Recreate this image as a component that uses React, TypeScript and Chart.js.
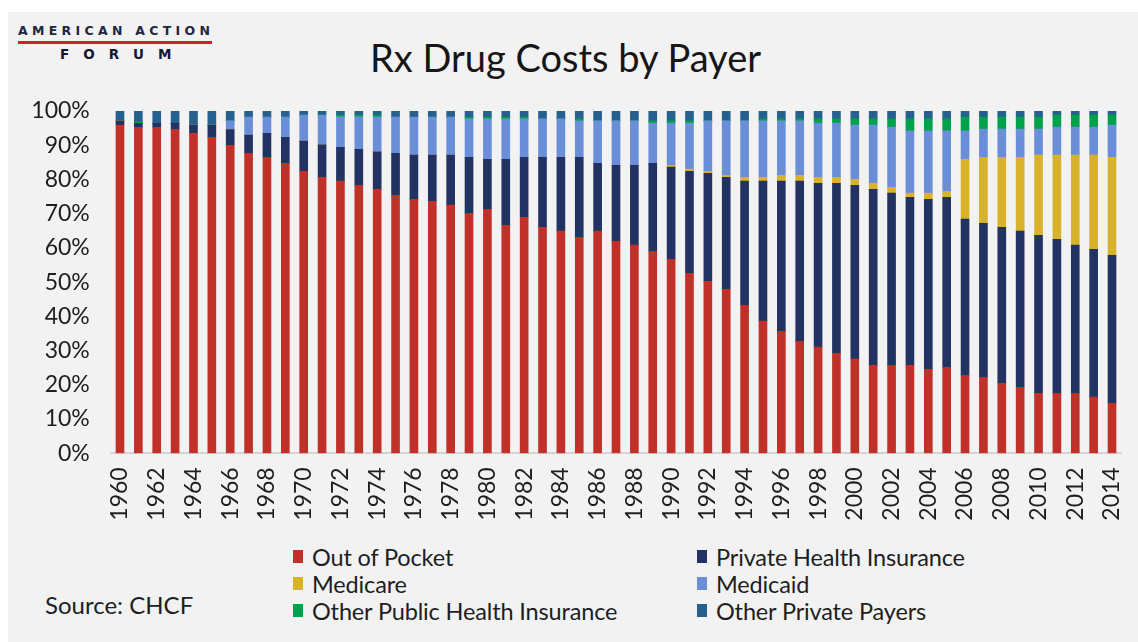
import React, { useEffect, useRef } from "react";
import { Chart, registerables } from "chart.js";

Chart.register(...registerables);

const years: string[] = [
  "1960","1961","1962","1963","1964","1965","1966","1967","1968","1969",
  "1970","1971","1972","1973","1974","1975","1976","1977","1978","1979",
  "1980","1981","1982","1983","1984","1985","1986","1987","1988","1989",
  "1990","1991","1992","1993","1994","1995","1996","1997","1998","1999",
  "2000","2001","2002","2003","2004","2005","2006","2007","2008","2009",
  "2010","2011","2012","2013","2014",
];

const outOfPocket: number[] = [
  95.9, 95.2, 95.2, 94.6, 93.5, 92.3, 90.0, 87.6, 86.5, 84.7,
  82.4, 80.6, 79.5, 78.3, 77.1, 75.4, 74.2, 73.6, 72.5, 70.1,
  71.3, 66.6, 68.9, 66.0, 64.9, 63.1, 64.9, 61.9, 60.8, 59.0,
  56.7, 52.6, 50.2, 47.9, 43.2, 38.6, 35.6, 32.7, 31.0, 29.2,
  27.5, 25.7, 25.7, 25.7, 24.5, 25.1, 22.8, 22.2, 20.4, 19.3,
  17.5, 17.5, 17.5, 16.4, 14.6,
];

const privateHealthInsurance: number[] = [
  1.2, 1.2, 1.2, 1.8, 2.4, 3.6, 4.6, 5.4, 7.0, 7.6,
  8.8, 9.5, 9.9, 10.5, 11.0, 12.2, 12.9, 13.5, 14.6, 16.4,
  14.6, 19.3, 17.6, 20.5, 21.6, 23.4, 19.8, 22.2, 23.3, 25.7,
  26.9, 29.8, 31.6, 32.7, 36.3, 40.9, 43.9, 46.8, 47.9, 49.7,
  50.8, 51.4, 50.3, 49.1, 49.7, 49.7, 45.6, 45.0, 45.6, 45.6,
  46.2, 45.0, 43.3, 43.2, 43.2,
];

const medicare: number[] = [
  0, 0, 0, 0, 0, 0, 0, 0, 0, 0,
  0, 0, 0, 0, 0, 0, 0, 0, 0, 0,
  0, 0, 0, 0, 0, 0, 0, 0, 0, 0,
  0.5, 0.6, 0.6, 0.6, 1.1, 1.1, 1.7, 1.7, 1.7, 1.7,
  1.7, 1.8, 1.7, 1.2, 1.8, 1.7, 17.5, 19.3, 20.5, 21.6,
  23.4, 24.6, 26.3, 27.5, 28.7,
];

const medicaid: number[] = [
  0, 0, 0, 0, 0, 0, 2.5, 5.2, 4.7, 5.9,
  7.6, 8.7, 8.9, 9.5, 10.1, 10.6, 11.1, 11.1, 11.1, 11.2,
  11.8, 11.8, 11.2, 11.2, 11.2, 10.6, 12.4, 13.0, 13.0, 11.8,
  12.4, 13.5, 14.7, 15.9, 16.5, 16.5, 15.9, 15.9, 15.9, 15.9,
  15.9, 17.0, 17.6, 18.2, 18.2, 17.7, 8.3, 8.2, 8.2, 8.2,
  7.6, 8.2, 8.2, 8.2, 9.4,
];

const otherPublic: number[] = [
  0, 0.4, 0, 0, 0, 0, 0, 0, 0, 0,
  0, 0, 0.5, 0.5, 0.6, 0, 0, 0, 0, 0.5,
  0.5, 0.5, 0.5, 0, 0, 0.6, 0, 0, 0, 0.6,
  0.6, 0.6, 0, 0, 0, 0.6, 0.6, 0.6, 1.2, 1.2,
  1.8, 1.8, 2.4, 3.5, 3.5, 3.5, 4.0, 3.5, 3.5, 3.5,
  3.5, 3.5, 3.5, 3.5, 2.9,
];

const otherPrivate: number[] = [
  2.9, 3.2, 3.6, 3.6, 4.1, 4.1, 2.9, 1.8, 1.8, 1.8,
  1.2, 1.2, 1.2, 1.2, 1.2, 1.8, 1.8, 1.8, 1.8, 1.8,
  1.8, 1.8, 1.8, 2.3, 2.3, 2.3, 2.9, 2.9, 2.9, 2.9,
  2.9, 2.9, 2.9, 2.9, 2.9, 2.3, 2.3, 2.3, 2.3, 2.3,
  2.3, 2.3, 2.3, 2.3, 2.3, 2.3, 1.8, 1.8, 1.8, 1.8,
  1.8, 1.2, 1.2, 1.2, 1.2,
];

const seriesNames: string[] = [
  "Out of Pocket",
  "Private Health Insurance",
  "Medicare",
  "Medicaid",
  "Other Public Health Insurance",
  "Other Private Payers",
];

const seriesColors: string[] = [
  "#c0312a",
  "#223363",
  "#d8b22a",
  "#6a8fd8",
  "#00a14b",
  "#26608f",
];

const seriesValues: number[][] = [
  outOfPocket,
  privateHealthInsurance,
  medicare,
  medicaid,
  otherPublic,
  otherPrivate,
];

const legendOrder: number[] = [0, 1, 2, 3, 4, 5];

const yTicks: number[] = [0, 10, 20, 30, 40, 50, 60, 70, 80, 90, 100];

const FONT = "Lato, 'Open Sans', sans-serif";

export default function App() {
  const canvasRef = useRef<HTMLCanvasElement | null>(null);

  useEffect(() => {
    const canvas = canvasRef.current;
    if (!canvas) return;
    const chart = new Chart(canvas, {
      type: "bar",
      data: {
        labels: years,
        datasets: seriesNames.map((name, i) => ({
          label: name,
          data: seriesValues[i],
          backgroundColor: seriesColors[i],
          borderWidth: 0,
          barThickness: 8,
        })),
      },
      options: {
        responsive: false,
        animation: false,
        layout: { padding: { top: 19, right: 16.8, bottom: 0, left: 0 } },
        plugins: {
          legend: { display: false },
          tooltip: { enabled: false },
          title: { display: false },
        },
        scales: {
          x: {
            stacked: true,
            grid: { display: false, drawTicks: false },
            border: { display: true, color: "#d4d4d4", width: 2 },
            ticks: {
              autoSkip: false,
              minRotation: 90,
              maxRotation: 90,
              padding: 14,
              color: "#1e1e1e",
              font: { family: FONT, size: 23 },
              callback: (_v: any, i: number) => (i % 2 === 0 ? years[i] : ""),
            },
            afterFit: (scale: any) => {
              scale.height = 88.7;
              scale.paddingLeft = 0;
              scale.paddingRight = 0;
            },
          },
          y: {
            stacked: true,
            min: 0,
            max: 100,
            grid: { display: false, drawTicks: false },
            border: { display: false },
            afterBuildTicks: (scale: any) => {
              scale.ticks = yTicks.map((v) => ({ value: v }));
            },
            ticks: {
              padding: 21,
              color: "#1e1e1e",
              font: { family: FONT, size: 23 },
              callback: (v: any) => v + "%",
            },
            afterFit: (scale: any) => {
              scale.width = 102.8;
              scale.paddingTop = 0;
              scale.paddingBottom = 0;
            },
          },
        },
      },
    });
    return () => chart.destroy();
  }, []);

  return (
    <div
      style={{
        position: "fixed",
        left: 8,
        top: 12,
        width: 1130,
        height: 630,
        background: "#f2f2f2",
        overflow: "hidden",
        fontFamily: FONT,
      }}
    >
      {/* logo */}
      <div style={{ position: "absolute", left: 10, top: 11, width: 194 }}>
        <div
          style={{
            fontFamily: "'DejaVu Sans', sans-serif",
            fontWeight: 700,
            fontSize: 12.5,
            letterSpacing: 4.3,
            color: "#22263f",
            whiteSpace: "nowrap",
            lineHeight: "15px",
          }}
        >
          AMERICAN ACTION
        </div>
        <div style={{ height: 3, background: "#d0202a", marginTop: 3, width: 194 }} />
        <div
          style={{
            fontFamily: "'DejaVu Sans', sans-serif",
            fontWeight: 900,
            fontSize: 13.5,
            letterSpacing: 14,
            color: "#151833",
            marginTop: 3,
            marginLeft: 42,
            lineHeight: "14px",
            whiteSpace: "nowrap",
          }}
        >
          FORUM
        </div>
      </div>

      {/* title */}
      <div
        style={{
          position: "absolute",
          left: 362,
          top: 23,
          fontSize: 38,
          color: "#161616",
          whiteSpace: "nowrap",
          lineHeight: "44px",
        }}
      >
        Rx Drug Costs by Payer
      </div>

      {/* chart */}
      <canvas
        ref={canvasRef}
        width={1130}
        height={450}
        style={{ position: "absolute", left: 0, top: 80, width: 1130, height: 450 }}
      />

      {/* legend */}
      <div
        style={{
          position: "absolute",
          left: 285,
          top: 531,
          display: "grid",
          gridTemplateColumns: "404px auto",
          rowGap: 0,
        }}
      >
        {legendOrder.map((idx) => (
          <div
            key={seriesNames[idx]}
            style={{ display: "flex", alignItems: "center", height: 27, whiteSpace: "nowrap" }}
          >
            <span
              style={{
                display: "inline-block",
                width: 10,
                height: 13,
                background: seriesColors[idx],
                marginRight: 9,
              }}
            />
            <span style={{ fontSize: 23.5, color: "#1e1e1e", letterSpacing: -0.15 }}>
              {seriesNames[idx]}
            </span>
          </div>
        ))}
      </div>

      {/* source */}
      <div
        style={{
          position: "absolute",
          left: 37,
          top: 579,
          fontSize: 24,
          color: "#1e1e1e",
          whiteSpace: "nowrap",
          lineHeight: "28px",
        }}
      >
        Source: CHCF
      </div>
    </div>
  );
}
